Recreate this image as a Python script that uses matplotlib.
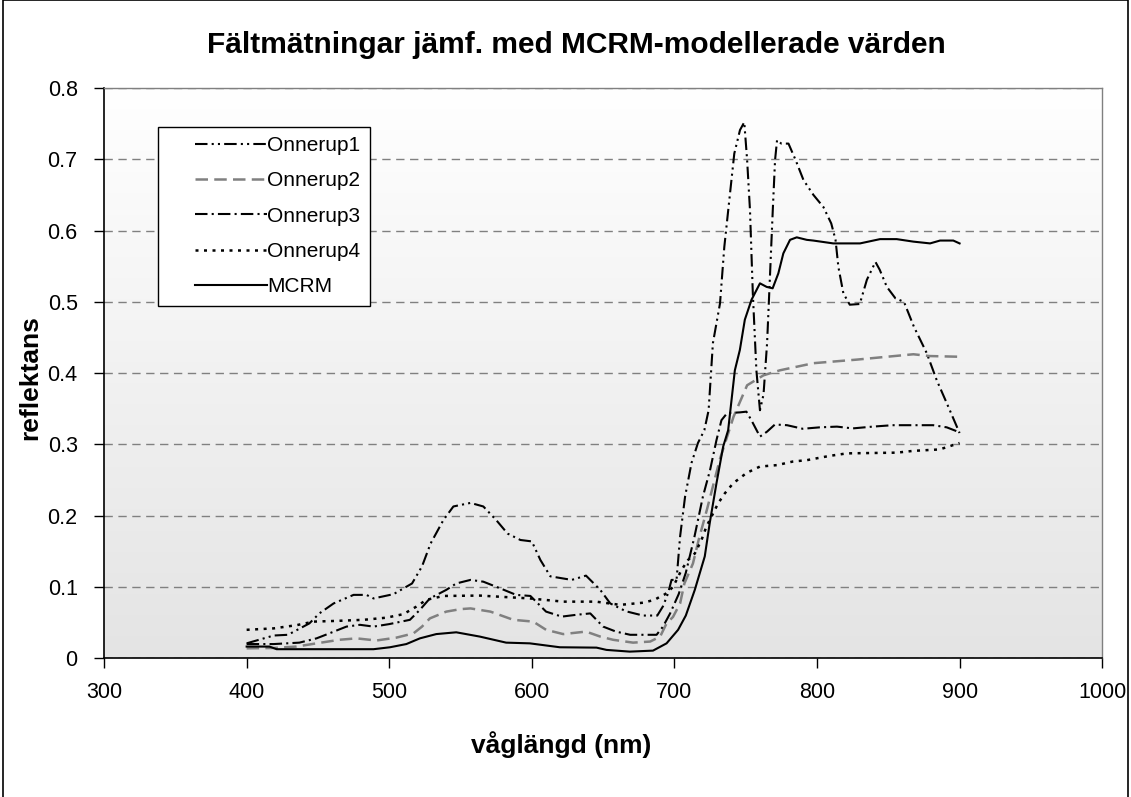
import matplotlib
matplotlib.use("Agg")
import matplotlib.pyplot as plt
import numpy as np
from matplotlib.colors import LinearSegmentedColormap
from matplotlib.patches import Rectangle
from matplotlib.legend_handler import HandlerLine2D
from matplotlib.lines import Line2D

plt.rcParams['font.family'] = ['Liberation Sans', 'DejaVu Sans']

# ---------------- data ----------------
wl_onnerup1 = [400, 419, 429, 444, 451, 461, 475, 484, 489, 503, 516, 523, 529, 538, 545,
               557, 566, 575, 583, 592, 600, 606, 613, 628, 638, 648, 655, 666, 678, 688,
               692, 695.5, 698, 701.5, 704, 707.5, 712, 716.5, 721, 724, 727, 732, 735, 739,
               742, 746, 749, 751, 753, 755, 757.5, 760, 762.5, 765, 767, 769, 770.6, 772,
               775, 780, 785, 790.5, 797.5, 804.5, 810, 813, 815, 818.5, 823, 830, 835, 841,
               844, 849, 855, 861, 868, 877, 884, 891, 900]
refl_onnerup1 = [0.021, 0.032, 0.033, 0.049, 0.063, 0.077, 0.089, 0.089, 0.084, 0.090, 0.105,
                 0.129, 0.161, 0.194, 0.213, 0.218, 0.213, 0.194, 0.175, 0.166, 0.164, 0.138,
                 0.115, 0.110, 0.116, 0.096, 0.077, 0.066, 0.060, 0.060, 0.073, 0.091, 0.110,
                 0.110, 0.171, 0.227, 0.274, 0.302, 0.320, 0.348, 0.442, 0.498, 0.577, 0.652,
                 0.708, 0.741, 0.752, 0.699, 0.629, 0.512, 0.404, 0.348, 0.370, 0.442, 0.535,
                 0.629, 0.699, 0.727, 0.722, 0.722, 0.699, 0.671, 0.650, 0.633, 0.610, 0.587,
                 0.549, 0.512, 0.496, 0.497, 0.531, 0.556, 0.545, 0.521, 0.505, 0.500, 0.465,
                 0.428, 0.390, 0.358, 0.316]

wl_onnerup2 = [400, 419, 435, 449, 465, 477, 491, 505, 517, 523, 528.5, 540, 550, 557, 571,
               587, 601, 604.5, 610, 622, 638, 648, 657, 671, 683, 690, 694.5, 699, 704, 707,
               713, 717, 723, 732, 741.5, 751, 762.5, 774, 797.6, 828, 849, 867.6, 879, 900]
refl_onnerup2 = [0.014, 0.0145, 0.0165, 0.021, 0.026, 0.028, 0.025, 0.029, 0.035, 0.0445,
                 0.056, 0.0655, 0.069, 0.070, 0.0655, 0.054, 0.0515, 0.047, 0.040, 0.034,
                 0.0375, 0.0305, 0.026, 0.022, 0.0235, 0.0305, 0.049, 0.058, 0.077, 0.105,
                 0.133, 0.166, 0.210, 0.280, 0.339, 0.383, 0.397, 0.404, 0.414, 0.419, 0.423,
                 0.4265, 0.424, 0.423]

wl_onnerup3 = [400, 419, 437, 449, 458, 470, 479.5, 489, 500, 514.5, 521.5, 528.5, 540, 547,
               557, 566, 578, 589, 599, 603, 610, 621, 631, 641, 650, 659, 669, 687.5, 692,
               697, 703, 708, 714, 720, 725, 729.5, 733, 737, 746, 750.5, 754, 760, 765,
               770.5, 779, 790, 802, 814, 825, 839, 853, 881.5, 891, 900]
refl_onnerup3 = [0.020, 0.020, 0.022, 0.028, 0.035, 0.0445, 0.047, 0.0445, 0.048, 0.054,
                 0.068, 0.084, 0.096, 0.105, 0.110, 0.1075, 0.098, 0.089, 0.0875, 0.0795,
                 0.0655, 0.0585, 0.061, 0.063, 0.0445, 0.0375, 0.033, 0.033, 0.0445, 0.063,
                 0.090, 0.120, 0.170, 0.227, 0.264, 0.306, 0.334, 0.344, 0.345, 0.346, 0.334,
                 0.311, 0.318, 0.328, 0.327, 0.322, 0.324, 0.325, 0.3225, 0.325, 0.327, 0.327,
                 0.324, 0.317]

wl_onnerup4 = [400, 419, 435, 447, 463, 482, 498, 510, 519, 526, 538, 563.5, 598.6, 622, 645,
               662, 678, 686, 690, 693.5, 699, 705, 709.6, 714.3, 719, 722.5, 724.8, 730.7,
               735.4, 741.2, 750.6, 760, 772, 783, 793, 809, 821, 856, 867.5, 886, 900]
refl_onnerup4 = [0.040, 0.042, 0.0465, 0.0515, 0.0525, 0.054, 0.057, 0.062, 0.0725, 0.082,
                 0.0875, 0.088, 0.084, 0.0795, 0.0795, 0.075, 0.078, 0.082, 0.0865, 0.090,
                 0.100, 0.124, 0.138, 0.147, 0.166, 0.185, 0.194, 0.2175, 0.2315, 0.2455,
                 0.260, 0.269, 0.271, 0.276, 0.278, 0.284, 0.2875, 0.2885, 0.291, 0.293, 0.302]

wl_mcrm = [400, 416, 421, 435, 489, 500.5, 512, 521.5, 533, 547, 563.5, 582, 598.6, 619.7,
           645.4, 652.4, 668.7, 685, 694.5, 702.6, 708, 714.3, 721.3, 724.8, 729.5, 734.2,
           737.7, 742.4, 745.9, 749.4, 754.1, 760, 764.7, 768.9, 772.9, 776.4, 781.1, 785.8,
           792.8, 797.4, 811.4, 830.2, 844.2, 855.9, 867.6, 879.3, 886.3, 895.6, 900]
refl_mcrm = [0.0165, 0.0165, 0.0128, 0.0128, 0.0128, 0.0155, 0.020, 0.028, 0.034, 0.0365,
             0.0305, 0.022, 0.021, 0.0155, 0.015, 0.0118, 0.0094, 0.0108, 0.021, 0.040,
             0.060, 0.096, 0.143, 0.190, 0.2455, 0.297, 0.320, 0.404, 0.4325, 0.475, 0.503,
             0.526, 0.521, 0.519, 0.540, 0.568, 0.587, 0.5905, 0.587, 0.586, 0.582, 0.582,
             0.588, 0.588, 0.5845, 0.582, 0.586, 0.586, 0.582]

series_labels = ['Onnerup1', 'Onnerup2', 'Onnerup3', 'Onnerup4', 'MCRM']
x_ticks = [300, 400, 500, 600, 700, 800, 900, 1000]
y_ticks = [0, 0.1, 0.2, 0.3, 0.4, 0.5, 0.6, 0.7, 0.8]
y_tick_labels = ['0', '0.1', '0.2', '0.3', '0.4', '0.5', '0.6', '0.7', '0.8']


class ShiftedLineHandler(HandlerLine2D):
    """Legend line drawn only in the right part of the handle box (Excel look)."""
    def __init__(self, frac=0.28, **kw):
        super().__init__(**kw)
        self.frac = frac

    def create_artists(self, legend, orig_handle, xdescent, ydescent, width, height,
                       fontsize, trans):
        artists = super().create_artists(legend, orig_handle, xdescent, ydescent, width,
                                         height, fontsize, trans)
        for a in artists:
            if isinstance(a, Line2D):
                xd = np.asarray(a.get_xdata(), dtype=float)
                if xd.size >= 2:
                    x0, x1 = xd.min(), xd.max()
                    a.set_xdata(np.linspace(x0 + self.frac * (x1 - x0), x1, xd.size))
        return artists


# ---------------- figure ----------------
fig = plt.figure(figsize=(11.31, 7.97), dpi=100)
fig.patch.set_facecolor('white')
ax = fig.add_axes([0.092, 0.174, 0.8825, 0.7156])

# gradient background for plot area
cmap = LinearSegmentedColormap.from_list('bg', ['#e4e4e4', '#ffffff'])
grad = np.linspace(0, 1, 256).reshape(-1, 1)
ax.imshow(grad, extent=[0, 1, 0, 1], transform=ax.transAxes, aspect='auto',
          cmap=cmap, origin='lower', zorder=0, interpolation='bicubic')

lw = 1.5
l1, = ax.plot(wl_onnerup1, refl_onnerup1, color='black', lw=lw,
              dashes=(6, 2, 1, 2, 1, 2), label=series_labels[0], zorder=3)
l2, = ax.plot(wl_onnerup2, refl_onnerup2, color='#808080', lw=1.8,
              dashes=(5, 2.5), label=series_labels[1], zorder=3)
l3, = ax.plot(wl_onnerup3, refl_onnerup3, color='black', lw=lw,
              dashes=(6, 2, 1, 2), label=series_labels[2], zorder=3)
l4, = ax.plot(wl_onnerup4, refl_onnerup4, color='black', lw=1.8,
              dashes=(1.2, 2.2), label=series_labels[3], zorder=3)
l5, = ax.plot(wl_mcrm, refl_mcrm, color='black', lw=lw, label=series_labels[4], zorder=3)

ax.set_xlim(300, 1000)
ax.set_ylim(0, 0.8)
ax.set_xticks(x_ticks)
ax.set_xticklabels([str(t) for t in x_ticks])
ax.set_yticks(y_ticks)
ax.set_yticklabels(y_tick_labels)
ax.tick_params(axis='both', direction='out', length=7, width=1, labelsize=15.5,
               colors='black')
ax.tick_params(axis='x', pad=10)
ax.tick_params(axis='y', pad=12)

ax.yaxis.grid(True, color='#808080', linestyle=(0, (6, 4)), linewidth=1)
ax.set_axisbelow(True)

for side in ['top', 'right']:
    ax.spines[side].set_color('#808080')
    ax.spines[side].set_linewidth(1)
for side in ['left', 'bottom']:
    ax.spines[side].set_color('black')
    ax.spines[side].set_linewidth(1.2)

fig.text(561 / 1131, 1 - 745 / 797, 'våglängd (nm)', ha='center', va='center',
         fontsize=19, fontweight='bold')
fig.text(30 / 1131, 1 - 378 / 797, 'reflektans', ha='center', va='center',
         fontsize=19, fontweight='bold', rotation=90)
fig.text(576 / 1131, 1 - 45 / 797, 'Fältmätningar jämf. med MCRM-modellerade värden',
         ha='center', va='center', fontsize=21.5, fontweight='bold')

handler = ShiftedLineHandler(frac=0.28)
leg = ax.legend(handles=[l1, l2, l3, l4, l5], loc='upper left',
                bbox_to_anchor=(0.054, 0.932), borderaxespad=0,
                fontsize=15, handlelength=4.8, handletextpad=0.0, labelspacing=0.78,
                borderpad=0.45, fancybox=False, framealpha=1, edgecolor='black',
                handler_map={Line2D: handler})
leg.get_frame().set_linewidth(1)

# outer chart border
fig.patches.append(Rectangle((0.0025, -0.05), 0.995, 1.0495, transform=fig.transFigure,
                             fill=False, edgecolor='black', linewidth=1.2))

fig.savefig('out.png', dpi=100)
